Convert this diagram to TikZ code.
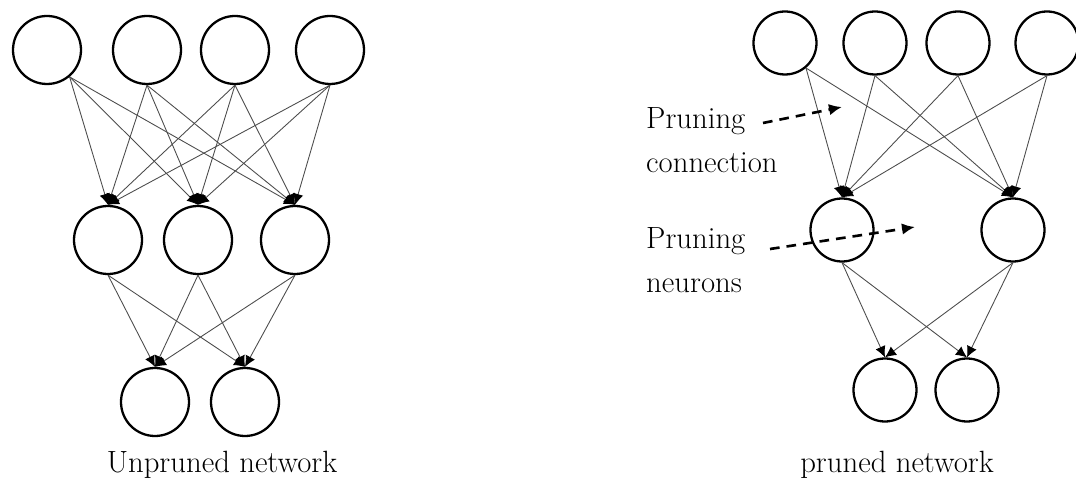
\documentclass[tikz,border=0pt]{standalone}
\usetikzlibrary{arrows.meta}

\begin{document}
\begin{tikzpicture}[x=0.2mm, y=-0.2mm,
    neuron/.style={circle, draw, line width=1.3pt, inner sep=0pt, minimum size=#1},
    neuron/.default=13.6mm,
    link/.style={draw=black!70, line width=0.5pt, -{Latex[length=2.2mm,width=2.1mm,black]}},
    hint/.style={line width=1.5pt, dashed, dash pattern=on 5.5pt off 4pt, -{Latex[length=2.6mm,width=2.3mm]}},
    every node/.style={font=\fontsize{17.5}{25}\selectfont}]

    \useasboundingbox (0,0) rectangle (1076,489);

    % unpruned network
    \draw(47,50) node[neuron] (t1) {};
    \draw(147,50) node[neuron] (t2) {};
    \draw(235,50) node[neuron] (t3) {};
    \draw(330,50) node[neuron] (t4) {};

    \draw(108,240) node[neuron] (m1) {};
    \draw(198,240) node[neuron] (m2) {};
    \draw(295,240) node[neuron] (m3) {};

    \draw(155,402) node[neuron] (b1) {};
    \draw(245,402) node[neuron] (b2) {};

    \draw(222,465) node (unpruned) {Unpruned network};

    \draw[link] (t1.-50) to (m1.north);
    \draw[link] (t1.-50) to (m2.north);
    \draw[link] (t1.-50) to (m3.north);
    \draw[link] (t2.south) to (m1.north);
    \draw[link] (t2.south) to (m2.north);
    \draw[link] (t2.south) to (m3.north);
    \draw[link] (t3.south) to (m1.north);
    \draw[link] (t3.south) to (m2.north);
    \draw[link] (t3.south) to (m3.north);
    \draw[link] (t4.south) to (m1.north);
    \draw[link] (t4.south) to (m2.north);
    \draw[link] (t4.south) to (m3.north);

    \draw[link] (m1.south) to (b1.north);
    \draw[link] (m1.south) to (b2.north);
    \draw[link] (m2.south) to (b1.north);
    \draw[link] (m2.south) to (b2.north);
    \draw[link] (m3.south) to (b1.north);
    \draw[link] (m3.south) to (b2.north);

    % pruned network
    \draw(785,43) node[neuron=12.6mm] (T1) {};
    \draw(875,43) node[neuron=12.6mm] (T2) {};
    \draw(958,43) node[neuron=12.6mm] (T3) {};
    \draw(1047,43) node[neuron=12.6mm] (T4) {};

    \draw(842,230) node[neuron=12.6mm] (M1) {};
    \draw(1013,230) node[neuron=12.6mm] (M2) {};

    \draw(885,390) node[neuron=12.6mm] (B1) {};
    \draw(967,390) node[neuron=12.6mm] (B2) {};

    \draw(897,465) node (pruned) {pruned network};

    \draw[link] (T1.-50) to (M1.north);
    \draw[link] (T1.-50) to (M2.north);
    \draw[link] (T2.south) to (M1.north);
    \draw[link] (T2.south) to (M2.north);
    \draw[link] (T3.south) to (M1.north);
    \draw[link] (T3.south) to (M2.north);
    \draw[link] (T4.south) to (M1.north);
    \draw[link] (T4.south) to (M2.north);

    \draw[link] (M1.south) to (B1.north);
    \draw[link] (M1.south) to (B2.north);
    \draw[link] (M2.south) to (B1.north);
    \draw[link] (M2.south) to (B2.north);

    % pruning notes
    \draw(640,140) node[anchor=west, align=left] (conn) {Pruning\\connection};
    \draw(640,260) node[anchor=west, align=left] (neur) {Pruning\\neurons};

    \coordinate (c0) at (763,123);
    \coordinate (c1) at (842,107);
    \coordinate (n0) at (770,249);
    \coordinate (n1) at (915,227);
    \draw[hint] (c0) to (c1);
    \draw[hint] (n0) to (n1);

    \end{tikzpicture}
\end{document}
